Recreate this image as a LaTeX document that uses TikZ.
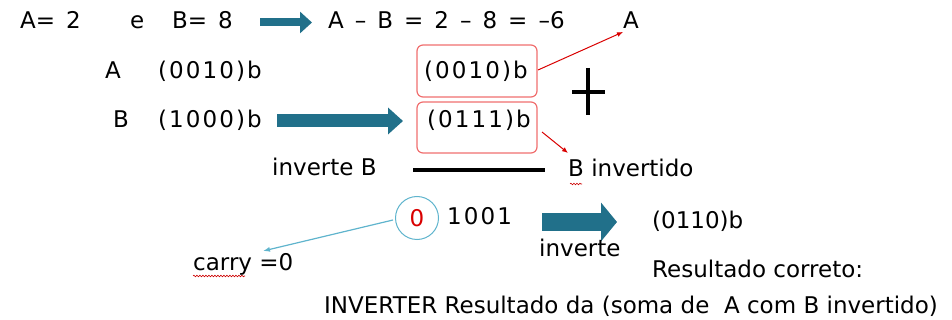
\documentclass[tikz,border=0pt]{standalone}
\usepackage{fontspec}
\setmainfont{DejaVu Sans}
\usetikzlibrary{arrows.meta,decorations.pathmorphing}
\definecolor{tealarr}{RGB}{33,112,138}
\definecolor{lightblue}{RGB}{95,180,205}
\definecolor{boxred}{RGB}{240,110,110}

\begin{document}
\begin{tikzpicture}[x=1pt,y=-1pt,
   every node/.style={font=\fontsize{23}{27}\selectfont,inner sep=0pt,anchor=base west},
   spaced/.style={execute at begin node={\spaceskip=11pt plus 1pt\relax}},
   wide/.style={font=\fontsize{23}{27}\selectfont\addfontfeature{LetterSpace=9}},
   binbox/.style={draw=boxred,rounded corners=6pt,line width=1.2pt},
   fatarr/.style={tealarr,line width=8pt,-{Triangle[length=12pt,width=21pt]}},
   midarr/.style={tealarr,line width=13pt,-{Triangle[length=15pt,width=26pt]}},
   bigarr/.style={tealarr,line width=18pt,-{Triangle[length=16pt,width=38pt]}},
   redarr/.style={red!85!black,line width=1pt,-{Latex[length=6pt,width=5pt]}},
   bluearr/.style={lightblue,line width=1.2pt,-{Latex[length=7pt,width=5pt]}},
   squig/.style={red!80!black,line width=0.6pt,decorate,
                 decoration={snake,amplitude=0.8pt,segment length=3pt}}
]
\useasboundingbox (0,0) rectangle (952,320);

% Row 1: values
\node[spaced] (va) at (20,29) {A= 2};
\node (ve) at (130,29) {e};
\node[spaced] (vb) at (172,29) {B= 8};
\node[spaced] (sub) at (328,29) {A -- B = 2 -- 8 = --6};
\node (ta) at (623,29) {A};
\draw[fatarr] (260,22.5) -- (312,22.5);

% Rows 2-3: binary values
\node (la) at (105,79) {A};
\node[wide] (ba) at (158,79) {(0010)b};
\node (lb) at (113,128) {B};
\node[wide] (bb) at (158,128) {(1000)b};

\draw[binbox] (417,45) rectangle (537,97);
\draw[binbox] (417,102) rectangle (537,153);
\node[wide] (xa) at (424,79) {(0010)b};
\node[wide] (xb) at (427,128) {(0111)b};
\coordinate (boxa) at (538,70);
\coordinate (boxb) at (542,132);
\draw[midarr] (277,121) -- (403,121);
\draw[redarr] (boxa) -- (623,32);
\draw[redarr] (boxb) -- (568,153);

% plus sign
\draw[line width=3.5pt] (572,92) -- (605,92);
\draw[line width=3.5pt] (588,68) -- (588,115);

% Row 4
\node (inv) at (272,176) {inverte B};
\draw[line width=4.5pt] (413,170) -- (545,170);
\node (binv) at (568,177) {B invertido};
\draw[squig] (570,184) -- (582,184);

% Row 5: sum and carry
\node[draw=lightblue,circle,line width=1pt,minimum size=43pt,anchor=center,
      text=red!85!black] (cy) at (417,218) {0};
\node[wide] (sum) at (447,225) {1001};
\draw[bigarr] (542,222) -- (617,222);
\node (invw) at (539,256) {inverte};
\node (res) at (652,229) {(0110)b};
\draw[bluearr] (cy.west) ++(-2,2) coordinate (cyw) (cyw) -- (263,251);
\node (carry) at (193,270) {carry =0};
\draw[squig] (193,276) -- (245,276);
\node (ok) at (652,277) {Resultado correto:};

% bottom line
\node (note) at (324,313) {INVERTER Resultado da (soma de\ \ A com B invertido)};
\end{tikzpicture}
\end{document}
